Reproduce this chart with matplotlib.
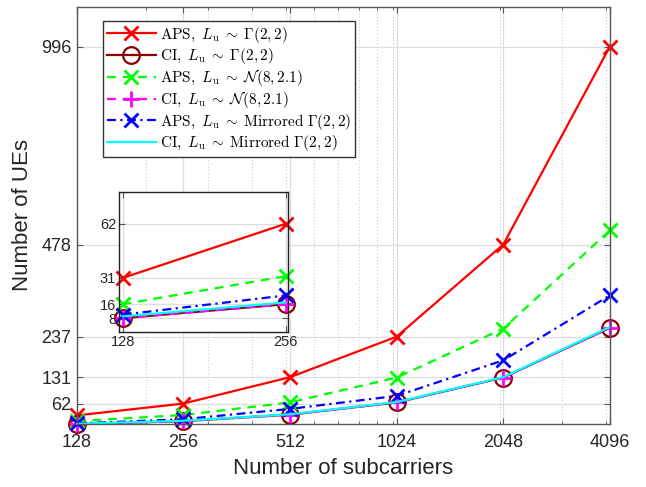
import matplotlib
matplotlib.use("Agg")
import matplotlib.pyplot as plt
import numpy as np
from matplotlib.ticker import FixedLocator, NullFormatter

plt.rcParams['mathtext.fontset'] = 'cm'
plt.rcParams['font.family'] = ['Liberation Sans', 'DejaVu Sans']

subcarriers = np.array([128, 256, 512, 1024, 2048, 4096])
aps_gamma = np.array([31, 62, 131, 237, 478, 996])
ci_gamma = np.array([8, 16, 33, 65, 130, 260])
aps_normal = np.array([16, 32, 65, 130, 258, 515])
ci_normal = np.array([8, 16, 33, 65, 130, 260])
aps_mirror = np.array([10, 21, 48, 82, 175, 345])
ci_mirror = np.array([9, 17, 34, 66, 131, 262])

yticks_main = [62, 131, 237, 478, 996]
yticks_inset = [8, 16, 31, 62]
minor_x = [200, 300, 400, 500, 600, 700, 800, 900, 1000, 2000, 3000, 4000]

labels = [r"$\mathrm{APS},\ L_{\mathrm{u}}\;\sim\;\Gamma(2,2)$",
          r"$\mathrm{CI},\ L_{\mathrm{u}}\;\sim\;\Gamma(2,2)$",
          r"$\mathrm{APS},\ L_{\mathrm{u}}\;\sim\;\mathcal{N}(8,2.1)$",
          r"$\mathrm{CI},\ L_{\mathrm{u}}\;\sim\;\mathcal{N}(8,2.1)$",
          r"$\mathrm{APS},\ L_{\mathrm{u}}\;\sim\;\mathrm{Mirrored}\ \Gamma(2,2)$",
          r"$\mathrm{CI},\ L_{\mathrm{u}}\;\sim\;\mathrm{Mirrored}\ \Gamma(2,2)$"]

series = [aps_gamma, ci_gamma, aps_normal, ci_normal, aps_mirror, ci_mirror]
styles = [dict(color='#ff0000', ls='-', marker='x', ms=10, mew=2),
          dict(color='#8b0000', ls='-', marker='o', ms=12, mew=1.6, mfc='none'),
          dict(color='#00ff00', ls=(0, (4, 3)), marker='x', ms=10, mew=2),
          dict(color='#ff00ff', ls=(0, (4, 3)), marker='+', ms=11, mew=2),
          dict(color='#0000ff', ls=(0, (4, 2, 1, 2)), marker='x', ms=10, mew=2),
          dict(color='#00ffff', ls='-')]

tick_col = '#262626'


def style_axes(ax):
    for s in ax.spines.values():
        s.set_color('#555555')
        s.set_linewidth(1.0)
    ax.tick_params(which='both', direction='in', top=True, right=True,
                   colors='#555555', labelcolor=tick_col)
    ax.tick_params(which='major', length=4)
    ax.tick_params(which='minor', length=2.5)
    ax.grid(True, which='major', color='#dddddd', lw=0.9, ls='-')
    ax.set_axisbelow(True)


fig = plt.figure(figsize=(6.46, 4.87), dpi=100)
ax = fig.add_axes([0.119, 0.129, 0.825, 0.857])

for y, st, lab in zip(series, styles, labels):
    ax.plot(subcarriers, y, lw=1.6, label=lab, clip_on=False, **st)

ax.set_xscale('log', base=2)
ax.set_xlim(128, 4096)
ax.set_ylim(8, 1100)
ax.set_xticks(subcarriers)
ax.set_xticklabels([str(v) for v in subcarriers], fontsize=13)
ax.xaxis.set_minor_locator(FixedLocator(minor_x))
ax.xaxis.set_minor_formatter(NullFormatter())
ax.set_yticks(yticks_main)
ax.set_yticklabels([str(v) for v in yticks_main], fontsize=13)
style_axes(ax)
ax.tick_params(axis='x', which='major', pad=7)
ax.tick_params(axis='y', which='major', pad=4)
ax.grid(True, which='minor', axis='x', color='#cccccc', lw=0.8, ls=(0, (1, 2)))
ax.set_xlabel("Number of subcarriers", fontsize=16, color=tick_col, labelpad=5)
ax.set_ylabel("Number of UEs", fontsize=16, color=tick_col, labelpad=6)

leg = ax.legend(loc='upper left', bbox_to_anchor=(0.049, 0.966), borderaxespad=0,
                fontsize=11, handlelength=3.2, fancybox=False, framealpha=1,
                edgecolor='#333333', borderpad=0.25, labelspacing=0.08,
                handletextpad=0.3)
leg.get_frame().set_linewidth(1.0)

# zoomed inset for 128 and 256
ins = fig.add_axes([0.184, 0.318, 0.262, 0.287])
for y, st in zip(series, styles):
    ins.plot(subcarriers[:2], y[:2], lw=1.6, clip_on=False, **st)
ins.set_xlim(125, 258)
ins.set_ylim(0, 80)
ins.set_xticks(subcarriers[:2])
ins.set_xticklabels(['128', '256'], fontsize=10.5)
ins.set_yticks(yticks_inset)
ins.set_yticklabels([str(v) for v in yticks_inset], fontsize=10.5)
ins.tick_params(pad=2)
style_axes(ins)
for s in ins.spines.values():
    s.set_color('#222222')

fig.savefig("out.png", dpi=100)
